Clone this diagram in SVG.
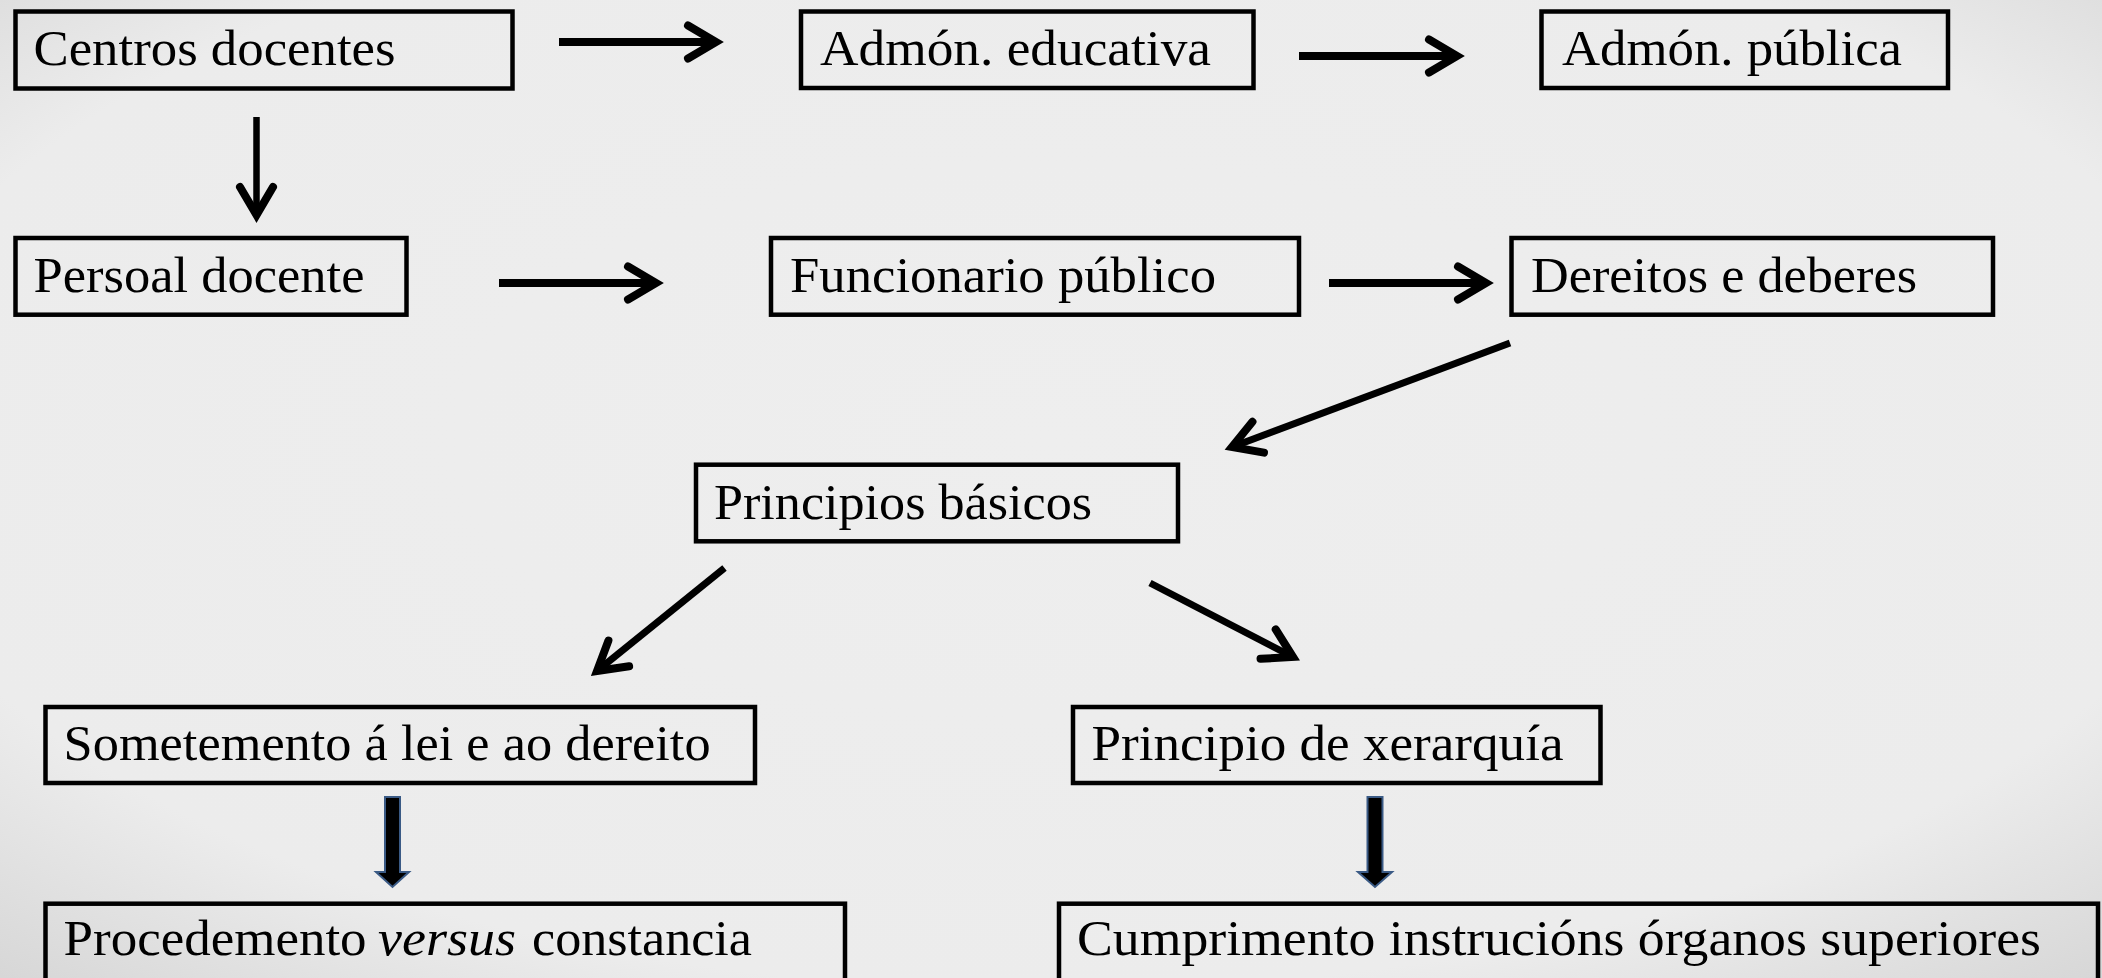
<svg xmlns="http://www.w3.org/2000/svg" width="2102" height="978" viewBox="0 0 2102 978">
  <defs>
    <radialGradient id="bg" cx="50%" cy="45%" r="75%">
      <stop offset="0" stop-color="#EEEEEE"/>
      <stop offset="0.75" stop-color="#ECECEC"/>
      <stop offset="1" stop-color="#D6D6D6"/>
    </radialGradient>
    <marker id="chev" markerUnits="userSpaceOnUse" orient="auto" refX="0" refY="0" markerWidth="10" markerHeight="10" overflow="visible">
      <path d="M -28,-16.5 L 0,0 L -28,16.5" fill="none" stroke="#000" stroke-width="8" stroke-linecap="round" stroke-linejoin="miter"/>
    </marker>
    <style>
      .box { fill: none; stroke: #000; stroke-width: 4.5; }
      .lbl { font-family: "Liberation Serif", "Times New Roman", serif; font-size: 50px; fill: #000; }
      .it { font-style: italic; }
      .arr { fill: none; stroke: #000; stroke-width: 8; marker-end: url(#chev); }
      .block { fill: #000; stroke: #3A5A85; stroke-width: 2; }
    </style>
  </defs>
  <rect x="0" y="0" width="2102" height="978" fill="url(#bg)"/>

  <g id="connectors">
    <line class="arr" x1="559" y1="42" x2="716" y2="42"/>
    <line class="arr" x1="1299" y1="56" x2="1457" y2="56"/>
    <line class="arr" style="stroke-width:6.5" x1="256.5" y1="117" x2="256.5" y2="215"/>
    <line class="arr" x1="499" y1="283" x2="656" y2="283"/>
    <line class="arr" x1="1329" y1="283" x2="1486" y2="283"/>
    <line class="arr" style="stroke-width:7" x1="1510" y1="343" x2="1232" y2="447"/>
    <line class="arr" style="stroke-width:7" x1="724.5" y1="568" x2="597" y2="671"/>
    <line class="arr" style="stroke-width:7" x1="1150" y1="583" x2="1293" y2="657"/>
    <polygon class="block" points="385,797 400,797 400,872 409,872 392.5,887 376,872 385,872"/>
    <polygon class="block" points="1367.5,797 1382.5,797 1382.5,872 1392,872 1375,887 1358,872 1367.5,872"/>
  </g>

  <g id="n-centros">
    <rect class="box" x="15.5" y="11.5" width="497" height="77"/>
    <text class="lbl" x="33.5" y="65" textLength="362" lengthAdjust="spacingAndGlyphs">Centros docentes</text>
  </g>
  <g id="n-admon-educativa">
    <rect class="box" x="801" y="11.5" width="452.5" height="76.5"/>
    <text class="lbl" x="820" y="65" textLength="391" lengthAdjust="spacingAndGlyphs">Admón. educativa</text>
  </g>
  <g id="n-admon-publica">
    <rect class="box" x="1541.5" y="11.5" width="406.5" height="76.5"/>
    <text class="lbl" x="1562" y="65" textLength="340" lengthAdjust="spacingAndGlyphs">Admón. pública</text>
  </g>
  <g id="n-persoal">
    <rect class="box" x="15.5" y="238" width="391" height="76.7"/>
    <text class="lbl" x="33.5" y="292" textLength="331" lengthAdjust="spacingAndGlyphs">Persoal docente</text>
  </g>
  <g id="n-funcionario">
    <rect class="box" x="771" y="238" width="528" height="76.7"/>
    <text class="lbl" x="790" y="292" textLength="426" lengthAdjust="spacingAndGlyphs">Funcionario público</text>
  </g>
  <g id="n-dereitos">
    <rect class="box" x="1511.5" y="238" width="481.5" height="76.7"/>
    <text class="lbl" x="1531" y="292" textLength="386" lengthAdjust="spacingAndGlyphs">Dereitos e deberes</text>
  </g>
  <g id="n-principios">
    <rect class="box" x="696" y="464.7" width="482" height="76.6"/>
    <text class="lbl" x="714" y="519" textLength="378" lengthAdjust="spacingAndGlyphs">Principios básicos</text>
  </g>
  <g id="n-sometemento">
    <rect class="box" x="45.5" y="707" width="709.5" height="76"/>
    <text class="lbl" x="63.6" y="760" textLength="647" lengthAdjust="spacingAndGlyphs">Sometemento á lei e ao dereito</text>
  </g>
  <g id="n-xerarquia">
    <rect class="box" x="1073" y="707" width="527.5" height="76"/>
    <text class="lbl" x="1091.5" y="760" textLength="472" lengthAdjust="spacingAndGlyphs">Principio de xerarquía</text>
  </g>
  <g id="n-procedemento">
    <rect class="box" x="45.5" y="903.7" width="799.5" height="100"/>
    <text class="lbl" y="955"><tspan x="63.6" textLength="303" lengthAdjust="spacingAndGlyphs">Procedemento</tspan><tspan class="it" x="378" textLength="138" lengthAdjust="spacingAndGlyphs">versus</tspan><tspan x="532" textLength="220" lengthAdjust="spacingAndGlyphs">constancia</tspan></text>
  </g>
  <g id="n-cumprimento">
    <rect class="box" x="1059" y="903.7" width="1039" height="100"/>
    <text class="lbl" x="1077" y="955" textLength="964" lengthAdjust="spacingAndGlyphs">Cumprimento instrucións órganos superiores</text>
  </g>
</svg>
